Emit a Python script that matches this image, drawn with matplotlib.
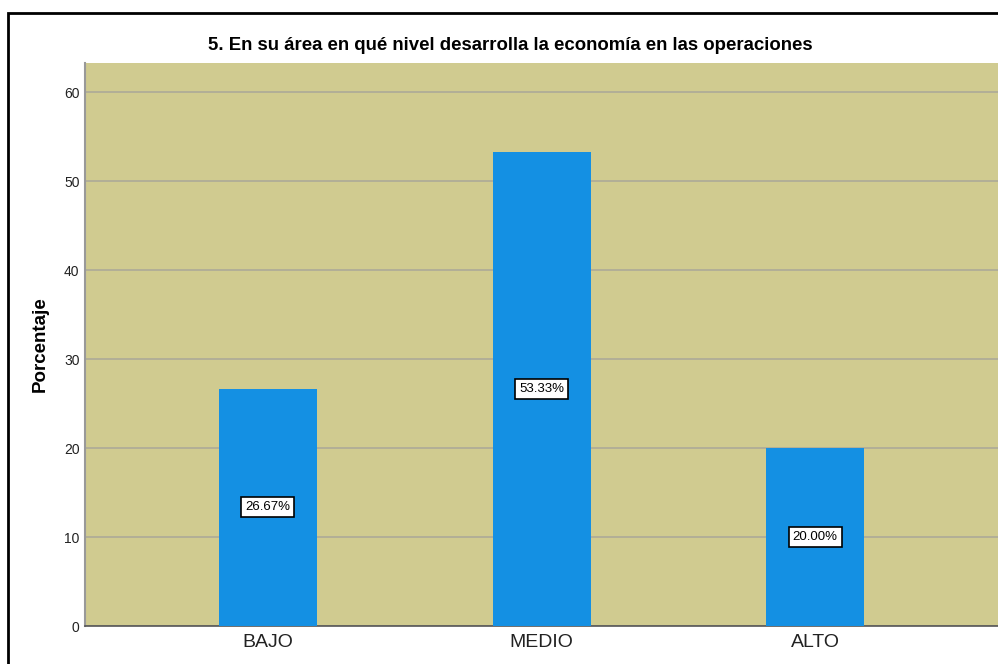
import matplotlib
matplotlib.use("Agg")
import matplotlib.pyplot as plt
from matplotlib.patches import Rectangle

categories = ["BAJO", "MEDIO", "ALTO"]
percent = [26.67, 53.33, 20.00]
yticks = [0, 10, 20, 30, 40, 50, 60]
title = "5. En su área en qué nivel desarrolla la economía en las operaciones"

font = ["Liberation Sans", "DejaVu Sans"]

fig = plt.figure(figsize=(9.98, 6.64), dpi=100)
ax = fig.add_axes([0.0852, 0.0572, 0.9148, 0.8479])
ax.set_facecolor("#d0cb90")

x = list(range(len(categories)))
ax.bar(x, percent, width=0.358, color="#1490e3", zorder=3)

for xi, v in zip(x, percent):
    ax.text(xi, v / 2, f"{v:.2f}%", ha="center", va="center", fontsize=9.5,
            family=font, zorder=4,
            bbox=dict(boxstyle="square,pad=0.3", fc="white", ec="black", lw=1.2))

ax.set_xlim(-0.668, 2.668)
ax.set_ylim(0, 63.3)
ax.set_yticks(yticks)
ax.set_xticks(x)
ax.set_xticklabels(categories, family=font, fontsize=14, color="#222222")
for lab in ax.get_yticklabels():
    lab.set_family(font)
    lab.set_fontsize(10)
    lab.set_color("#222222")
ax.tick_params(axis="both", length=0)
ax.tick_params(axis="y", pad=4)
ax.tick_params(axis="x", pad=6)
ax.yaxis.grid(True, color="#adaa98", lw=1.2, zorder=1)
ax.set_axisbelow(True)
for s in ["top", "right"]:
    ax.spines[s].set_visible(False)
ax.spines["left"].set_color("#999999")
ax.spines["left"].set_linewidth(1.5)
ax.spines["bottom"].set_color("#555555")
ax.spines["bottom"].set_linewidth(1.2)

ax.set_ylabel("Porcentaje", family=font, fontsize=13.5, fontweight="bold")
ax.yaxis.set_label_coords((49 - 85) / 913, 0.5)
fig.text(510 / 998, 1 - 45 / 664, title, ha="center", va="center",
         family=font, fontsize=13.4, fontweight="bold")

# outer frame around the chart
fig.patches.append(Rectangle((8 / 998, -0.1), 1.2, 1.1 - 13 / 664, transform=fig.transFigure,
                             fill=False, ec="black", lw=2))

fig.savefig("out.png", dpi=100)
